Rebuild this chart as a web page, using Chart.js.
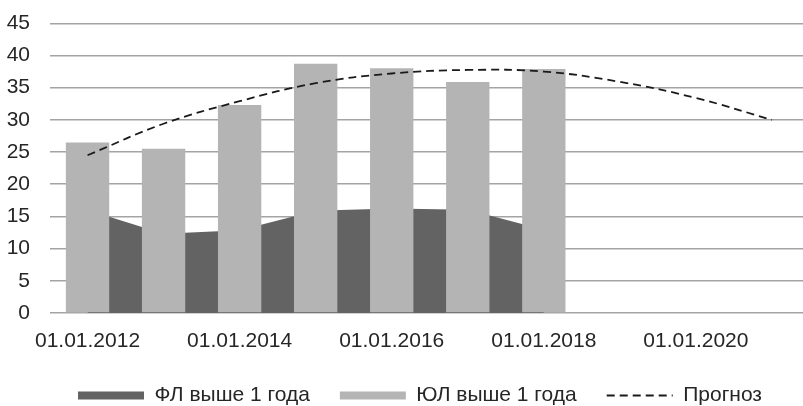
<!DOCTYPE html>
<html><head><meta charset="utf-8">
<script src="https://cdn.jsdelivr.net/npm/chart.js@4"></script>
<style>
html,body{margin:0;padding:0;background:#fff;overflow:hidden;width:803px;height:406px}
#wrap{position:absolute;left:0;top:0;width:810px;height:416px}
</style></head><body>
<div id="wrap"><canvas id="c" width="810" height="416"></canvas></div>
<script>
const categories = ['01.01.2012','01.01.2013','01.01.2014','01.01.2015','01.01.2016','01.01.2017','01.01.2018','01.01.2019','01.01.2020','01.01.2021'];
const flValues = [16.0, 12.3, 12.85, 15.9, 16.25, 16.05, 12.95, null, null, null];
const ulValues = [26.5, 25.5, 32.3, 38.7, 38.0, 35.9, 37.9, null, null, null];
const forecastValues = [24.5, 29.4, 32.9, 35.7, 37.2, 37.75, 37.5, 35.9, 33.4, 30.0];
const yTickMin = 0, yTickMax = 45, yTickStep = 5;
const seriesNames = ['ФЛ выше 1 года', 'ЮЛ выше 1 года', 'Прогноз'];

const FONT = "'Liberation Sans','Arial',sans-serif";
const FS = 21;
const TEXT = '#262626';
const GRID = '#a4a4a4';
const DARK = '#636363';
const LIGHT = '#b4b4b4';

const legendPlace = {
  id: 'legendPlace',
  beforeDraw(chart) {
    const l = chart.legend;
    if (l) { l.left = 30; l.right = 810; }
  }
};

new Chart(document.getElementById('c'), {
  data: {
    labels: categories,
    datasets: [
      { type: 'line', label: seriesNames[0], data: flValues, fill: 'origin', backgroundColor: DARK,
        borderWidth: 0, borderColor: DARK, pointRadius: 0, tension: 0, order: 3 },
      { type: 'bar', label: seriesNames[1], data: ulValues, backgroundColor: LIGHT,
        barPercentage: 0.57, categoryPercentage: 1, order: 2 },
      { type: 'line', label: seriesNames[2], data: forecastValues, fill: false, borderColor: '#1a1a1a',
        borderWidth: 1.8, borderDash: [8, 5], pointRadius: 0, tension: 0.4, order: 1 }
    ]
  },
  plugins: [legendPlace],
  options: {
    responsive: false,
    animation: false,
    devicePixelRatio: 1,
    layout: { padding: { left: 0, right: 0, top: 23.3, bottom: 0 } },
    plugins: {
      tooltip: { enabled: false },
      legend: {
        position: 'bottom',
        labels: {
          usePointStyle: true,
          pointStyleWidth: 66,
          boxHeight: 8,
          padding: 30,
          color: TEXT,
          font: { family: FONT, size: FS },
          generateLabels: () => [
            { text: seriesNames[0], fillStyle: DARK, strokeStyle: DARK, lineWidth: 0, pointStyle: 'rect', datasetIndex: 0, hidden: false, fontColor: TEXT },
            { text: seriesNames[1], fillStyle: LIGHT, strokeStyle: LIGHT, lineWidth: 0, pointStyle: 'rect', datasetIndex: 1, hidden: false, fontColor: TEXT },
            { text: seriesNames[2], fillStyle: 'rgba(0,0,0,0)', strokeStyle: '#1a1a1a', lineWidth: 1.8, lineDash: [8, 5], pointStyle: 'line', datasetIndex: 2, hidden: false, fontColor: TEXT }
          ]
        }
      }
    },
    scales: {
      x: {
        type: 'category',
        offset: true,
        grid: { display: false },
        border: { display: false },
        afterFit: (s) => { s.height = 42; },
        ticks: {
          autoSkip: false, maxRotation: 0, minRotation: 0, padding: 7.5,
          color: TEXT, font: { family: FONT, size: FS },
          callback: function (v, i) { return i % 2 === 0 ? this.getLabelForValue(v) : ''; }
        }
      },
      y: {
        min: yTickMin, max: yTickMax,
        afterFit: (s) => { s.width = 49.5; s.paddingTop = 0; s.paddingBottom = 0; },
        grid: { color: GRID, lineWidth: 1.5, drawTicks: false },
        border: { display: false },
        ticks: { stepSize: yTickStep, autoSkip: false, padding: 19.5, color: TEXT, font: { family: FONT, size: FS } }
      }
    }
  }
});
</script></body></html>
